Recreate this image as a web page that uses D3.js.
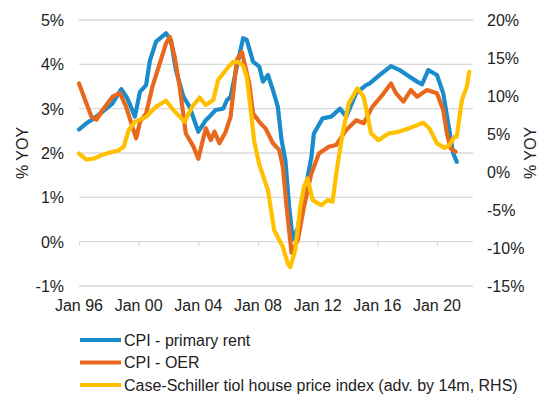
<!DOCTYPE html>
<html>
<head>
<meta charset="utf-8">
<script src="https://cdn.jsdelivr.net/npm/d3@7"></script>
<style>
  html, body { margin: 0; padding: 0; background: #fff; }
  #chart text { font-family: "Liberation Sans", Arial, sans-serif; fill: #222; }
</style>
</head>
<body>
<div id="chart"></div>
<script>
// CPI rent / OER vs Case-Shiller (RHS)
const rentDates = ["1996-01","1996-07","1997-01","1997-08","1998-04","1998-11","1999-04","1999-10","2000-02","2000-07","2000-10","2001-03","2001-11","2002-03","2002-07","2003-01","2003-06","2004-01","2004-07","2004-10","2005-03","2005-09","2005-12","2006-03","2006-08","2007-01","2007-04","2007-09","2008-02","2008-05","2008-09","2009-01","2009-05","2009-08","2009-11","2010-02","2010-05","2010-09","2011-02","2011-05","2011-08","2011-10","2012-05","2012-12","2013-07","2013-12","2014-08","2015-04","2015-07","2016-03","2016-12","2017-07","2018-03","2018-09","2019-01","2019-06","2020-01","2020-06","2020-10","2021-02","2021-05"];
const rentValues = [2.53,2.67,2.78,2.93,3.12,3.44,3.23,2.82,3.38,3.53,4.08,4.51,4.70,4.55,3.87,3.27,3.04,2.48,2.74,2.82,2.97,3.00,3.19,3.27,3.95,4.59,4.55,4.06,3.95,3.61,3.76,3.42,3.04,2.29,1.84,0.80,0.05,0.30,1.00,1.46,1.91,2.44,2.78,2.82,3.00,2.82,3.35,3.53,3.57,3.76,3.96,3.87,3.72,3.61,3.55,3.87,3.76,3.35,2.67,1.99,1.80];

const oerDates = ["1996-01","1996-06","1996-11","1997-03","1997-08","1998-04","1998-10","1999-03","1999-08","1999-11","2000-02","2000-07","2000-12","2001-06","2001-11","2002-02","2002-06","2002-10","2003-03","2003-09","2004-01","2004-07","2004-11","2005-02","2005-06","2005-11","2006-03","2006-06","2006-08","2006-12","2007-06","2007-09","2008-03","2008-07","2009-01","2009-06","2009-09","2009-12","2010-04","2010-09","2011-02","2011-08","2012-02","2012-10","2013-04","2013-12","2014-08","2015-02","2015-09","2016-04","2016-12","2017-04","2017-10","2018-04","2018-09","2019-05","2020-01","2020-06","2020-09","2020-12","2021-04"];
const oerValues = [3.57,3.19,2.82,2.75,2.97,3.27,3.35,3.04,2.59,2.33,2.70,2.89,3.49,4.02,4.47,4.62,4.17,3.49,2.44,2.15,1.87,2.56,2.29,2.48,2.22,2.48,2.82,3.57,4.10,4.28,3.57,2.89,2.67,2.56,2.22,2.07,1.69,0.79,-0.25,0.03,0.79,1.54,1.99,2.14,2.18,2.52,2.74,2.67,3.04,3.27,3.57,3.35,3.16,3.42,3.27,3.42,3.35,2.97,2.44,2.10,2.03];

const csDates = ["1996-01","1996-07","1997-01","1997-07","1998-01","1998-09","1999-01","1999-05","1999-10","2000-07","2001-03","2001-11","2002-05","2003-02","2003-08","2004-02","2004-07","2005-01","2005-05","2005-11","2006-05","2006-09","2007-01","2007-04","2007-07","2007-10","2008-02","2008-09","2009-02","2009-09","2010-01","2010-03","2010-07","2010-11","2011-02","2011-05","2011-09","2012-04","2012-09","2013-01","2013-04","2013-09","2014-02","2014-09","2015-02","2015-08","2016-02","2016-10","2017-06","2018-02","2018-09","2019-02","2019-07","2020-01","2020-07","2020-11","2021-03","2021-05","2021-09","2022-01","2022-03"];
const csValues = [2.43,1.64,1.77,2.20,2.52,2.87,3.31,5.50,6.60,7.26,8.58,9.37,8.14,6.60,8.58,9.81,8.80,9.46,12.10,13.40,14.50,14.50,14.00,12.50,8.50,4.00,1.00,-2.40,-7.67,-9.87,-12.05,-12.50,-10.30,-4.60,-1.96,-0.86,-3.70,-4.37,-3.70,-3.90,-0.20,5.07,9.03,11.00,9.90,5.07,4.19,5.07,5.28,5.73,6.17,6.47,5.73,3.76,3.18,3.53,4.63,4.63,9.46,11.21,13.19];

const leftTicks = [-1, 0, 1, 2, 3, 4, 5];
const rightTicks = [-15, -10, -5, 0, 5, 10, 15, 20];
const xTickYears = [1996, 2000, 2004, 2008, 2012, 2016, 2020];

const seriesNames = ["CPI - primary rent", "CPI - OER", "Case-Schiller tiol house price index (adv. by 14m, RHS)"];
const seriesColors = ["#1a8bcb", "#e8691d", "#ffc000"];

const width = 545, height = 399;
const margin = { left: 79, right: 72, top: 20, bottom: 113 };
const parse = d3.timeParse("%Y-%m");

const svg = d3.select("#chart").append("svg")
    .attr("width", width)
    .attr("height", height);

const x = d3.scaleTime()
    .domain([new Date(1996, 0, 1), new Date(2022, 5, 1)])
    .range([margin.left, width - margin.right]);
const yL = d3.scaleLinear().domain([-1, 5]).range([height - margin.bottom, margin.top]);
const yR = d3.scaleLinear().domain([-15, 20]).range([height - margin.bottom, margin.top]);

// gridlines
svg.append("g")
    .selectAll("line")
    .data(leftTicks)
    .enter()
    .append("line")
    .attr("x1", margin.left)
    .attr("x2", width - margin.right)
    .attr("y1", d => yL(d))
    .attr("y2", d => yL(d))
    .style("stroke", "#d9d9d9")
    .style("stroke-width", 1.3);

// x axis sits on the 0% line
const xAxis = svg.append("g")
    .attr("transform", `translate(0,${yL(0)})`)
    .call(d3.axisBottom(x)
        .tickValues(xTickYears.map(y => new Date(y, 0, 1)))
        .tickSize(4)
        .tickFormat(""));
xAxis.select(".domain").remove();
xAxis.selectAll("line").style("stroke", "#d9d9d9").style("stroke-width", 1.3);

svg.append("g")
    .selectAll("text")
    .data(xTickYears)
    .enter()
    .append("text")
    .attr("x", d => x(new Date(d, 0, 1)))
    .attr("y", yL(-1) + 24.5)
    .attr("text-anchor", "middle")
    .style("font-size", "16px")
    .text(d => "Jan " + String(d).slice(2));

// left axis labels
const yAxisL = svg.append("g")
    .attr("transform", `translate(${margin.left - 15},0)`)
    .call(d3.axisLeft(yL).tickValues(leftTicks).tickSize(0).tickFormat(d => d + "%"));
yAxisL.select(".domain").remove();
yAxisL.selectAll("text").style("font-size", "16px").attr("x", 0).attr("dy", "0.35em");

// right axis labels
const yAxisR = svg.append("g")
    .attr("transform", `translate(${width - margin.right + 14},0)`)
    .call(d3.axisRight(yR).tickValues(rightTicks).tickSize(0).tickFormat(d => d + "%"));
yAxisR.select(".domain").remove();
yAxisR.selectAll("text").style("font-size", "16px").attr("x", 0).attr("dy", "0.35em");

// axis titles
svg.append("text")
    .attr("transform", `translate(28,${yL(2)}) rotate(-90)`)
    .attr("text-anchor", "middle")
    .style("font-size", "16px")
    .text("% YOY");
svg.append("text")
    .attr("transform", `translate(536,${yL(2)}) rotate(-90)`)
    .attr("text-anchor", "middle")
    .style("font-size", "16px")
    .text("% YOY");

// lines
const series = [
    { dates: rentDates, values: rentValues, scale: yL },
    { dates: oerDates, values: oerValues, scale: yL },
    { dates: csDates, values: csValues, scale: yR }
];

series.forEach((s, i) => {
    const pts = s.dates.map((d, j) => ({ date: parse(d), value: s.values[j] }));
    const line = d3.line()
        .x(d => x(d.date))
        .y(d => s.scale(d.value))
        .curve(d3.curveLinear);
    svg.append("path")
        .datum(pts)
        .attr("d", line)
        .style("fill", "none")
        .style("stroke", seriesColors[i])
        .style("stroke-width", 4.2)
        .style("stroke-linejoin", "round")
        .style("stroke-linecap", "round");
});

// legend
const legend = svg.append("g")
    .selectAll("g")
    .data(seriesNames)
    .enter()
    .append("g")
    .attr("transform", (d, i) => `translate(80,${340 + i * 22.5})`);

legend.append("line")
    .attr("x1", 0)
    .attr("x2", 41)
    .style("stroke", (d, i) => seriesColors[i])
    .style("stroke-width", 4);

legend.append("text")
    .attr("x", 44)
    .attr("dy", "0.35em")
    .style("font-size", "16px")
    .text(d => d);
</script>
</body>
</html>
